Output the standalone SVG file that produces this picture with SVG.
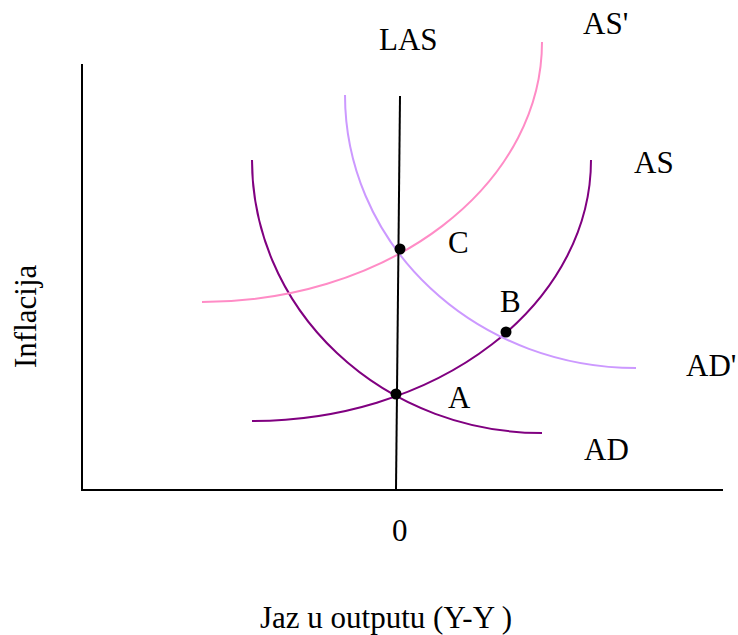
<svg xmlns="http://www.w3.org/2000/svg" width="738" height="635" viewBox="0 0 738 635">
<style>
.t{font-family:"Liberation Serif","Times New Roman",serif;font-size:31px;fill:#000}
.c{fill:none;stroke-width:2}
.ax{stroke:#000;stroke-width:2;fill:none}
.dot{fill:#000}
</style>
<rect width="738" height="635" fill="#fff"/>
<g id="axes">
<line class="ax" x1="82" y1="64" x2="82" y2="490"/>
<line class="ax" x1="81" y1="490" x2="723" y2="490"/>
</g>
<g id="connectors">
<path id="AD" class="c" stroke="#800080" d="M252,160 A290,273 0 0 0 542,433"/>
<path id="AS" class="c" stroke="#800080" d="M252,421 A339,261 0 0 0 591,160"/>
<path id="ASp" class="c" stroke="#ff8cc6" d="M202,302 A340,260 0 0 0 542,42"/>
<path id="ADp" class="c" stroke="#cc99ff" d="M345,95 A291,273 0 0 0 636,368"/>
<line id="LAS" x1="400" y1="96" x2="396" y2="490" stroke="#000" stroke-width="2"/>
</g>
<g id="pointA"><circle class="dot" cx="396" cy="394" r="5.5"/><text class="t" x="448" y="408">A</text></g>
<g id="pointB"><circle class="dot" cx="506" cy="332" r="5.5"/><text class="t" x="500" y="312">B</text></g>
<g id="pointC"><circle class="dot" cx="400" cy="249" r="5.5"/><text class="t" x="448" y="253">C</text></g>
<g id="labels">
<text class="t" x="379" y="50">LAS</text>
<text class="t" x="583" y="34">AS'</text>
<text class="t" x="634" y="173">AS</text>
<text class="t" x="686" y="376">AD'</text>
<text class="t" x="584" y="460">AD</text>
<text class="t" x="392" y="541">0</text>
<text class="t" x="260" y="628">Jaz u outputu (Y-Y )</text>
<text class="t" transform="translate(36,368) rotate(-90)">Inflacija</text>
</g>
</svg>
